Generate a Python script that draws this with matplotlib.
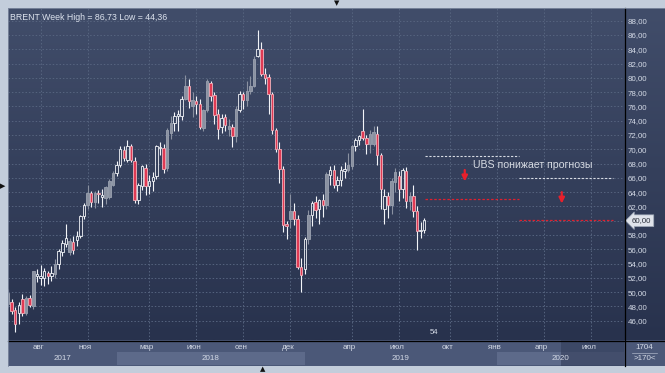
import numpy as np
import matplotlib.pyplot as plt
from matplotlib.lines import Line2D
from matplotlib.colors import LinearSegmentedColormap
from matplotlib.transforms import blended_transform_factory

plt.rcParams['font.family'] = ['Liberation Sans', 'DejaVu Sans']

# weekly BRENT candles, Jun 2017 - Aug 2019
opens = [49.9, 48.6, 47.5, 47.1, 49.0, 47.1, 49.2, 48.0, 52.3, 52.0,
         52.0, 52.7, 52.2, 52.6, 54.0, 55.6, 56.7, 55.6, 57.0, 57.3,
         57.9, 60.6, 62.2, 63.9, 62.6, 63.9, 63.3, 63.2, 63.3, 65.0,
         66.7, 67.8, 69.9, 68.5, 70.4, 68.4, 62.9, 64.8, 67.4, 64.9,
         65.6, 66.2, 70.2, 70.2, 67.4, 72.3, 73.7, 74.6, 74.6, 77.1,
         78.8, 76.0, 76.7, 76.4, 73.0, 75.5, 79.3, 77.6, 75.0, 73.1,
         74.5, 72.8, 73.1, 71.8, 75.5, 77.7, 76.9, 78.1, 78.9, 83.1,
         84.0, 80.6, 80.1, 77.7, 72.7, 70.1, 67.2, 59.6, 60.3, 61.4,
         60.3, 53.5, 53.3, 57.4, 60.8, 62.6, 61.7, 62.9, 62.2, 66.4,
         67.1, 65.0, 65.7, 67.0, 67.1, 67.7, 70.4, 71.3, 72.5, 71.6,
         70.8, 70.8, 72.2, 69.2, 61.7, 63.4, 62.2, 65.4, 66.2, 64.5,
         67.0, 62.8, 63.5, 61.3, 58.5, 58.7]
highs = [50.4, 49.0, 47.9, 48.6, 49.7, 49.5, 49.6, 53.0, 53.3, 53.8,
         53.4, 53.0, 53.6, 54.6, 56.0, 57.3, 59.5, 57.6, 57.9, 58.5,
         60.8, 62.5, 65.0, 64.2, 64.1, 64.3, 64.5, 64.9, 65.8, 67.0,
         68.3, 70.4, 70.4, 71.3, 70.8, 68.9, 65.3, 67.8, 67.9, 66.4,
         66.8, 70.6, 71.0, 70.8, 73.0, 74.7, 75.2, 75.5, 77.4, 80.4,
         79.9, 78.0, 77.5, 77.0, 75.7, 79.8, 79.6, 78.0, 75.6, 75.0,
         74.9, 74.3, 73.6, 76.0, 78.2, 78.0, 79.5, 80.2, 83.0, 86.73,
         85.0, 81.4, 80.6, 78.0, 73.0, 71.0, 67.6, 60.0, 63.7, 62.5,
         60.8, 54.8, 57.7, 61.5, 62.8, 63.5, 63.1, 63.7, 66.8, 67.6,
         67.8, 66.2, 67.6, 68.2, 69.5, 70.6, 71.6, 72.0, 75.6, 72.0,
         72.7, 73.2, 73.3, 69.5, 64.4, 64.0, 66.0, 67.4, 67.0, 67.4,
         67.5, 64.0, 65.0, 62.0, 59.8, 60.4]
lows = [47.9, 46.9, 44.36, 45.6, 46.6, 46.8, 47.9, 47.7, 51.4, 51.0,
        50.8, 51.2, 51.5, 52.0, 53.3, 55.0, 56.3, 55.2, 55.4, 56.5,
        57.6, 60.2, 61.6, 61.9, 61.8, 62.5, 61.9, 62.4, 63.0, 64.8,
        66.2, 67.5, 68.3, 68.2, 68.2, 62.5, 62.4, 64.3, 63.6, 63.8,
        64.2, 65.9, 69.2, 66.7, 67.0, 71.5, 72.6, 72.5, 74.1, 76.9,
        75.8, 74.5, 74.9, 72.9, 72.6, 75.2, 76.8, 73.5, 71.5, 72.3,
        72.6, 71.8, 70.3, 71.0, 75.2, 75.7, 76.0, 77.8, 78.7, 82.9,
        80.2, 79.1, 75.0, 72.2, 69.6, 65.3, 58.4, 57.5, 59.0, 59.4,
        53.3, 50.05, 52.5, 56.7, 59.3, 60.4, 59.6, 60.5, 61.6, 65.0,
        64.6, 64.1, 64.9, 66.0, 66.8, 67.3, 69.8, 70.6, 71.3, 69.4,
        69.5, 70.5, 67.8, 61.6, 59.6, 60.4, 61.0, 64.0, 62.8, 63.2,
        61.8, 61.5, 60.5, 55.9, 57.6, 58.3]
closes = [48.4, 47.4, 45.6, 48.2, 47.1, 49.2, 48.2, 52.9, 52.6, 52.3,
          53.0, 52.3, 52.7, 54.0, 55.7, 56.9, 57.6, 57.2, 55.9, 57.8,
          60.6, 62.2, 63.9, 62.6, 63.9, 63.7, 63.6, 64.7, 65.5, 66.7,
          67.8, 70.0, 68.8, 70.5, 68.5, 62.9, 65.0, 67.6, 64.8, 65.6,
          66.1, 70.4, 70.3, 67.2, 72.7, 73.7, 74.6, 75.0, 77.1, 78.8,
          76.7, 76.9, 76.4, 73.1, 75.5, 79.5, 77.4, 74.8, 72.9, 74.4,
          73.4, 73.2, 71.8, 75.6, 77.7, 76.9, 78.2, 78.8, 82.7, 84.0,
          80.6, 80.0, 77.7, 72.7, 70.1, 67.2, 59.4, 59.2, 61.4, 60.3,
          53.5, 52.4, 57.4, 60.8, 62.5, 61.5, 62.9, 62.2, 66.5, 67.1,
          65.0, 65.7, 67.1, 67.3, 67.8, 70.4, 71.3, 71.8, 71.6, 70.8,
          72.1, 72.4, 69.2, 64.4, 63.4, 62.2, 65.5, 66.8, 64.5, 67.1,
          62.8, 63.5, 61.4, 58.5, 58.7, 60.1]
# w = hollow white, r = red, g = grey
candle_kind = ("grrwrgrgww" "wrwgwwwgrw" "wwgrgrwggg" "wwrwrrwwrw"
               "wwwrggwwwg" "rgrrggrrrw" "rgrgwrgggw" "rrrrrrrrgr"
               "rrwgwrwrgw" "rwwwggwwrr" "ggrrwrggrw" "rgrrww")

price_ticks = list(range(46, 90, 2))
last_price = 60
# month starts in weeks from first candle
month_pos = [9, 22, 39, 52, 65, 78, 95, 108, 122, 135, 148, 161]
month_labels = ['авг', 'ноя', 'мар', 'июн', 'сен', 'дек', 'апр', 'июл',
                'окт', 'янв', 'апр', 'июл']
year_edges = [0, 30, 82, 135, 170.2]
year_labels = ['2017', '2018', '2019', '2020']

# UBS forecast lines (old = white, new = red)
fc_x = [115.2, 141.3, 167.2]
fc_old = [69.1, 66.0]
fc_new = [63.0, 60.1]
arrow_x = [126.2, 153.0]
arrow_y = [(67.1, 65.5), (64.0, 62.4)]

W, H = 665, 373
XMAX = 170.2
fig = plt.figure(figsize=(W / 100, H / 100), dpi=100, facecolor='#c3cddb')


def px_axes(x0, y0, x1, y1):
    return fig.add_axes([x0 / W, 1 - y1 / H, (x1 - x0) / W, (y1 - y0) / H])


# background gradient (plot + price scale)
bg = px_axes(8, 8, 665, 340)
cmap = LinearSegmentedColormap.from_list('bg', ['#28324d', '#414d6a'])
bg.imshow(np.linspace(0, 1, 256).reshape(-1, 1)[::-1], cmap=cmap, aspect='auto',
          extent=[0, 1, 0, 1])
bg.axis('off')

ax = px_axes(8, 8, 624, 340)
ax.set_facecolor('none')
ax.set_xlim(0, XMAX)
ax.set_ylim(43.3, 89.78)

grid_c = '#56647f'
for p in price_ticks:
    ax.axhline(p, color=grid_c, lw=0.7, ls=(0, (1.5, 2)), zorder=1)
for m in month_pos:
    ax.axvline(m, color=grid_c, lw=0.7, ls=(0, (1.5, 2)), zorder=1)

x = np.arange(len(opens))
o = np.array(opens)
c = np.array(closes)
top = np.maximum(o, c)
bot = np.minimum(o, c)
hgt = np.maximum(top - bot, 0.15)
styles = {'g': ('#8a91a1', '#9ca3b1', '#8a91a1', 2),
          'w': ('none', '#f2f4f8', '#f2f4f8', 3),
          'r': ('#e03a54', '#f4b3bd', '#f2f4f8', 3)}
for k, (face, edge, wick, z) in styles.items():
    idx = [i for i, kk in enumerate(candle_kind) if kk == k]
    ax.vlines(x[idx], top[idx], np.array(highs)[idx], color=wick, lw=0.8, zorder=z)
    ax.vlines(x[idx], np.array(lows)[idx], bot[idx], color=wick, lw=0.8, zorder=z)
    ax.bar(x[idx], hgt[idx], bottom=bot[idx], width=0.68, facecolor=face,
           edgecolor=edge, linewidth=0.6, zorder=z)

# forecast lines
for j in range(2):
    ax.plot(fc_x[j:j + 2], [fc_old[j]] * 2, color='#d8dce4', lw=0.8,
            ls=(0, (2, 1.5)), zorder=4)
    ax.plot(fc_x[j:j + 2], [fc_new[j]] * 2, color='#e0202e', lw=0.9,
            ls=(0, (2, 1.5)), zorder=4)
for ax_x, (y0, y1) in zip(arrow_x, arrow_y):
    ax.annotate('', xy=(ax_x, y1), xytext=(ax_x, y0),
                arrowprops=dict(arrowstyle='-|>', color='#e8202c', lw=1.6,
                                mutation_scale=8, shrinkA=0, shrinkB=0), zorder=5)
ax.text(128.5, 67.8, 'UBS понижает прогнозы', color='#d6dae2', fontsize=7.6,
        va='center', ha='left', zorder=5)

ax.text(0.003, 0.985, 'BRENT Week High = 86,73 Low = 44,36', transform=ax.transAxes,
        color='#dde3ee', fontsize=6.3, va='top', ha='left')
ax.text(117.7, 44.3, '54', color='#d5dbe7', fontsize=5.6, ha='center', va='center')

# price scale
ax.yaxis.tick_right()
ax.set_yticks(price_ticks)
ax.set_yticklabels(['' if p == last_price else f'{p},00' for p in price_ticks])
ax.tick_params(axis='y', length=0, pad=2.5, labelsize=5.7, labelcolor='#d5dbe7')
ax.set_xticks([])
for s in ax.spines.values():
    s.set_visible(False)
tr = blended_transform_factory(ax.transAxes, ax.transData)
ax.text(1.013, last_price, f'{last_price},00', transform=tr, fontsize=5.7,
        color='#2a2f3a', va='center', ha='left', zorder=6,
        bbox=dict(boxstyle='larrow,pad=0.3', fc='#dfe3ea', ec='#9aa4b4', lw=0.5))

# time band
band = px_axes(8, 340, 624, 366)
band.set_xlim(0, XMAX)
band.set_ylim(0, 1)
band.set_facecolor('#4b5878')
for j, lab in enumerate(year_labels):
    a, b = year_edges[j], year_edges[j + 1]
    if j % 2 == 1:
        band.axvspan(a, b, ymin=0.04, ymax=0.53, color='#5d6a8a', lw=0)
    band.text((a + b) / 2, 0.27, lab, color='#d4dae6', fontsize=5.8,
              ha='center', va='center')
for m, lab in zip(month_pos, month_labels):
    band.text(m - 0.6, 0.72, lab, color='#d4dae6', fontsize=5.8,
              ha='center', va='center')
band.axvspan(152.9, XMAX, color='#35405d', alpha=0.65, lw=0)
band.set_xticks([])
band.set_yticks([])
for s in band.spines.values():
    s.set_visible(False)

corner = px_axes(624, 340, 665, 366)
corner.set_facecolor('#4b5878')
corner.set_xlim(0, 1)
corner.set_ylim(0, 1)
corner.text(0.5, 0.72, '1704', color='#d4dae6', fontsize=5.8, ha='center', va='center')
corner.text(0.5, 0.27, '>170<', color='#d4dae6', fontsize=5.8, ha='center', va='center')
corner.plot([0.2, 0.8], [0.5, 0.5], color='#aab3c6', lw=0.5)
corner.set_xticks([])
corner.set_yticks([])
for s in corner.spines.values():
    s.set_visible(False)

# separators and frame marks
fig.add_artist(Line2D([624.5 / W] * 2, [1 - 8 / H, 1 - 366 / H], color='black', lw=0.9))
fig.add_artist(Line2D([8 / W, 665 / W], [1 - 340.5 / H] * 2, color='black', lw=0.9))
fig.add_artist(Line2D([7.5 / W] * 2, [1 - 8 / H, 1 - 366 / H], color='#7f8aa0', lw=0.6))
fig.add_artist(Line2D([8 / W, 665 / W], [1 - 7.5 / H] * 2, color='#7f8aa0', lw=0.6))
fig.text(337 / W, 1 - 3.5 / H, '▼', fontsize=5, color='#111111', ha='center', va='center',
         family='DejaVu Sans')
fig.text(3 / W, 1 - 186 / H, '▶', fontsize=5, color='#111111', ha='center', va='center',
         family='DejaVu Sans')
fig.text(263 / W, 1 - 369.5 / H, '▲', fontsize=5, color='#111111', ha='center', va='center',
         family='DejaVu Sans')

fig.savefig('out.png', dpi=100, facecolor=fig.get_facecolor())
